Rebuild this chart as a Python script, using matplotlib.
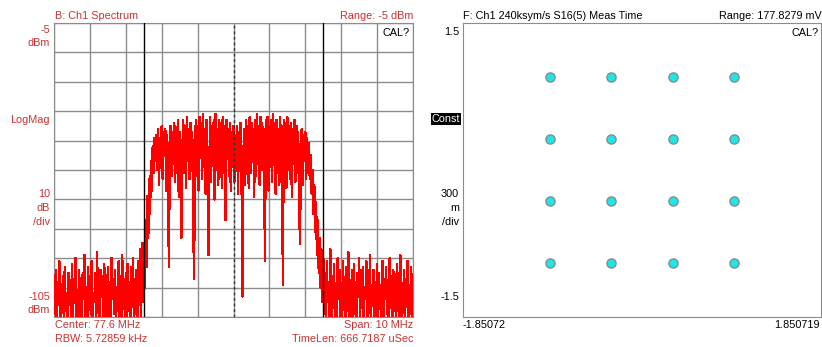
import numpy as np
import matplotlib
matplotlib.use("Agg")
import matplotlib.pyplot as plt

plt.rcParams['font.family'] = ['Liberation Sans', 'DejaVu Sans']

# ---- spectrum trace (dBm), 0.025 MHz per point ----
center_mhz = 77.6
span_mhz = 10.0
marker_offsets = [-2.5, 2.5]   # band edge markers, MHz from center

noise_left = [
    -96, -104, -89, -108, -93, -101, -86, -110, -95, -99,
    -91, -107, -88, -103, -97, -112, -90, -100, -94, -106,
    -87, -109, -92, -98, -85, -105, -96, -111, -89, -102,
    -93, -108, -90, -99, -84, -106, -95, -110, -88, -101,
    -92, -104, -86, -109, -97, -100, -90, -107, -83, -103,
    -94, -111, -89, -98, -91, -105, -87, -108, -96, -102,
    -88, -106, -93, -110, -85, -99, -92, -104, -89, -109,
    -95, -101, -86, -107, -91, -112, -84, -100, -94, -105,
    -90, -108, -87, -103, -93, -110, -88, -99, -85, -106,
    -92, -104, -89, -109, -86, -101, -82, -107, -80, -100,
]
rise = [-80, -95, -72, -88, -64, -78, -58, -70, -52, -62, -47, -56, -44, -52]
plateau = [
    -43, -55, -41, -60, -44, -52, -40, -58, -42, -50,
    -41, -62, -43, -54, -88, -47, -40, -57, -42, -53,
    -39, -59, -41, -51, -38, -64, -42, -55, -78, -49,
    -38, -56, -40, -61, -37, -52, -41, -58, -39, -50,
    -42, -66, -92, -53, -38, -57, -40, -62, -37, -51,
    -39, -58, -36, -54, -41, -63, -38, -50, -84, -56,
    -37, -59, -40, -52, -38, -65, -36, -55, -41, -60,
    -38, -53, -39, -61, -37, -56, -40, -72, -38, -51,
    -41, -57, -39, -62, -42, -54, -40, -59, -43, -52,
    -40, -63, -42, -55, -39, -58, -98, -50, -41, -60,
    -38, -54, -40, -61, -37, -56, -39, -52, -41, -64,
    -38, -57, -36, -53, -40, -60, -37, -55, -39, -51,
    -41, -86, -38, -58, -37, -62, -40, -54, -38, -59,
    -36, -52, -39, -63, -38, -56, -41, -60, -37, -53,
    -40, -94, -38, -57, -39, -61, -37, -55, -40, -58,
    -39, -64, -41, -53, -38, -59, -40, -56, -42, -62,
    -80, -54, -41, -60, -43, -52, -42, -58, -44, -55,
]
fall = [-46, -58, -50, -63, -55, -70, -60, -76, -66, -84, -72, -90, -78, -95, -82, -100]
noise_right = [
    -84, -104, -90, -109, -86, -100, -93, -107, -82, -111,
    -91, -102, -87, -106, -95, -110, -85, -99, -89, -105,
    -94, -108, -86, -101, -92, -112, -88, -103, -83, -107,
    -96, -100, -89, -109, -87, -104, -93, -110, -90, -98,
    -85, -106, -92, -102, -88, -111, -95, -99, -86, -108,
    -91, -103, -84, -107, -97, -100, -89, -110, -93, -105,
    -87, -109, -90, -101, -94, -106, -86, -112, -92, -99,
    -88, -104, -96, -108, -85, -102, -91, -110, -89, -100,
    -93, -107, -87, -103, -90, -111, -84, -105, -95, -101,
    -89, -109, -92, -98, -86, -106, -94, -104, -88, -108,
    -91,
]

# ---- 16QAM constellation levels ----
i_levels = [-0.949, -0.316, 0.316, 0.949]
q_levels = [-0.949, -0.316, 0.316, 0.949]

W, H = 822, 347
RED_TXT = '#c83232'
FS = 7.8

fig = plt.figure(figsize=(W / 100, H / 100), dpi=100)
fig.patch.set_facecolor('white')


def box(x0, y0, x1, y1):
    # pixel box (top-left origin) -> axes rect
    return [x0 / W, 1 - y1 / H, (x1 - x0) / W, (y1 - y0) / H]


def txt(x, y, s, ha='left', color='black', **kw):
    fig.text(x / W, 1 - y / H, s, ha=ha, va='center', color=color, fontsize=FS, **kw)


# ---------------- left: spectrum ----------------
ax1 = fig.add_axes(box(54, 23, 413, 317))
trace = np.array(noise_left + rise + plateau + fall + noise_right, dtype=float)
freq = np.linspace(center_mhz - span_mhz / 2, center_mhz + span_mhz / 2, len(trace))
ax1.plot(freq, trace, color='#ff0000', lw=1.0, antialiased=False, zorder=3)
for off in marker_offsets:
    ax1.axvline(center_mhz + off, color='black', lw=1.0, zorder=4)
ax1.axvline(center_mhz, color='#333333', lw=1.0, ls=(0, (2, 2)), zorder=4)
ax1.set_xlim(center_mhz - span_mhz / 2, center_mhz + span_mhz / 2)
ax1.set_ylim(-105, -5)
ax1.set_xticks(np.arange(center_mhz - 5, center_mhz + 5.01, 1.0))
ax1.set_yticks(np.arange(-105, -4, 10))
ax1.grid(True, color='#8c8c8c', lw=1.0, zorder=1)
ax1.tick_params(length=0, labelbottom=False, labelleft=False)
for s in ax1.spines.values():
    s.set_color('#8c8c8c')
ax1.set_axisbelow(True)

txt(55, 16, 'B: Ch1 Spectrum', color=RED_TXT)
txt(413, 16, 'Range: -5 dBm', ha='right', color=RED_TXT)
txt(410, 33, 'CAL?', ha='right')
for y, s in [(30, '-5'), (43, 'dBm'), (120, 'LogMag'), (194, '10'), (208, 'dB'),
             (222, '/div'), (297, '-105'), (310, 'dBm')]:
    txt(50, y, s, ha='right', color=RED_TXT)
txt(55, 325, 'Center: 77.6 MHz', color=RED_TXT)
txt(55, 339, 'RBW: 5.72859 kHz', color=RED_TXT)
txt(413, 325, 'Span: 10 MHz', ha='right', color=RED_TXT)
txt(413, 339, 'TimeLen: 666.7187 uSec', ha='right', color=RED_TXT)

# ---------------- right: constellation ----------------
ax2 = fig.add_axes(box(463, 23, 821, 317))
ii, qq = np.meshgrid(i_levels, q_levels)
ax2.plot(ii.ravel(), qq.ravel(), 'o', ms=6.6, mfc='#1ee6e6', mec='#8a8a8a', mew=1.0)
ax2.set_xlim(-1.85072, 1.850719)
ax2.set_ylim(-1.5, 1.5)
ax2.set_xticks([])
ax2.set_yticks([])
for s in ax2.spines.values():
    s.set_color('#8c8c8c')

txt(463, 16, 'F: Ch1 240ksym/s S16(5) Meas Time')
txt(822, 16, 'Range: 177.8279 mV', ha='right')
txt(819, 33, 'CAL?', ha='right')
for y, s in [(32, '1.5'), (194, '300'), (208, 'm'), (222, '/div'), (297, '-1.5')]:
    txt(459, y, s, ha='right')
txt(460, 119, 'Const', ha='right', color='white',
    bbox=dict(facecolor='black', edgecolor='none', pad=0.6))
txt(463, 325, '-1.85072')
txt(820, 325, '1.850719', ha='right')

fig.savefig('out.png', dpi=100, facecolor='white')
